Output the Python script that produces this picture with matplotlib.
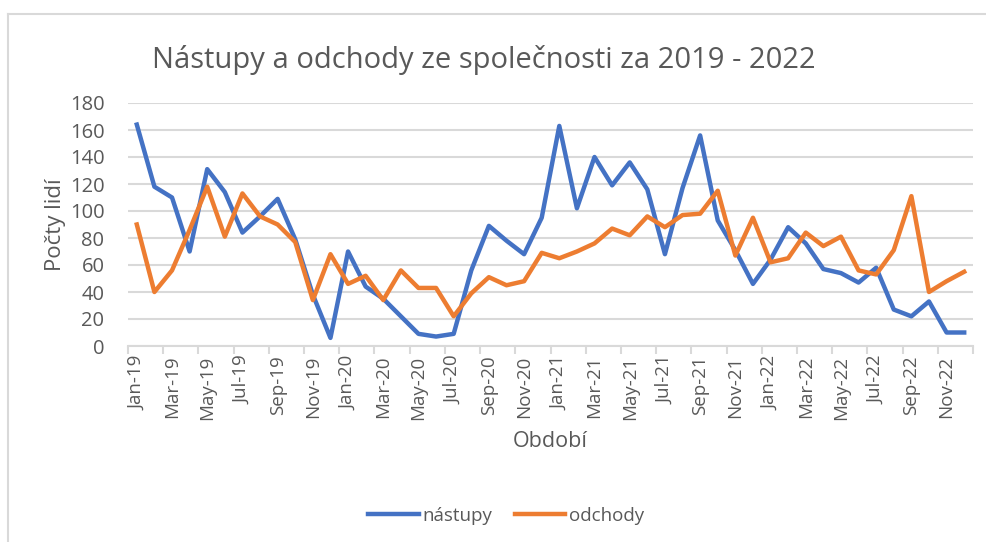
import numpy as np
import matplotlib.pyplot as plt
from matplotlib.lines import Line2D

plt.rcParams['font.family'] = ['Open Sans', 'DejaVu Sans']

months = ['Jan', 'Feb', 'Mar', 'Apr', 'May', 'Jun', 'Jul', 'Aug', 'Sep', 'Oct', 'Nov', 'Dec']
years = ['19', '20', '21', '22']
periods = [m + '-' + y for y in years for m in months]

nastupy = [164, 118, 110, 70, 131, 114, 84, 96, 109, 79, 38, 6,
           70, 44, 35, 22, 9, 7, 9, 56, 89, 78, 68, 95,
           163, 102, 140, 119, 136, 116, 68, 117, 156, 93, 71, 46,
           64, 88, 76, 57, 54, 47, 58, 27, 22, 33, 10, 10]
odchody = [90, 40, 56, 86, 118, 81, 113, 96, 90, 77, 34, 68,
           46, 52, 34, 56, 43, 43, 22, 39, 51, 45, 48, 69,
           65, 70, 76, 87, 82, 96, 88, 97, 98, 115, 67, 95,
           62, 65, 84, 74, 81, 56, 53, 71, 111, 40, 48, 55]

grey = '#595959'
gridc = '#d9d9d9'

fig = plt.figure(figsize=(9.86, 5.42), dpi=100)
ax = fig.add_axes([128 / 986, 196 / 542, 845 / 986, 243 / 542])

x = np.arange(len(periods))
ax.plot(x, nastupy, color='#4472C4', lw=3.2, label='nástupy', solid_joinstyle='round')
ax.plot(x, odchody, color='#ED7D31', lw=3.2, label='odchody', solid_joinstyle='round')

ax.set_xlim(-0.5, len(periods) - 0.5)
ax.set_ylim(0, 180)
ax.set_yticks(range(0, 181, 20))
ax.yaxis.grid(True, color=gridc, lw=1.5)
ax.set_axisbelow(True)

ax.set_xticks(x[::2])
ax.set_xticklabels(periods[::2], rotation=90)
ax.set_xticks(np.arange(-0.5, len(periods), 2), minor=True)
ax.tick_params(axis='x', which='major', length=0, pad=7, labelsize=13.5, labelcolor=grey)
ax.tick_params(axis='x', which='minor', length=6, width=1.5, color=gridc)
ax.tick_params(axis='y', length=0, pad=17, labelsize=14.5, labelcolor=grey)

for s in ['top', 'right', 'left']:
    ax.spines[s].set_visible(False)
ax.spines['bottom'].set_color(gridc)
ax.spines['bottom'].set_linewidth(1.5)

ax.set_ylabel('Počty lidí', fontsize=16, color=grey, labelpad=3)
ax.set_xlabel('Období', fontsize=15.5, color=grey, labelpad=8)

fig.text(484 / 986, 1 - 60 / 542, 'Nástupy a odchody ze společnosti za 2019 - 2022',
         ha='center', va='center', fontsize=21, color=grey)

fig.legend(loc='center', bbox_to_anchor=(506 / 986, 1 - 516 / 542), ncol=2, frameon=False,
           fontsize=13.5, handlelength=2.7, handletextpad=0.2, columnspacing=1.2,
           labelcolor=grey)

# chart area border
fig.add_artist(Line2D([8 / 986, 1.0], [1 - 14 / 542] * 2, color=gridc, lw=1.5))
fig.add_artist(Line2D([8 / 986] * 2, [0, 1 - 14 / 542], color=gridc, lw=1.5))

fig.savefig('out.png', dpi=100, facecolor='white')
